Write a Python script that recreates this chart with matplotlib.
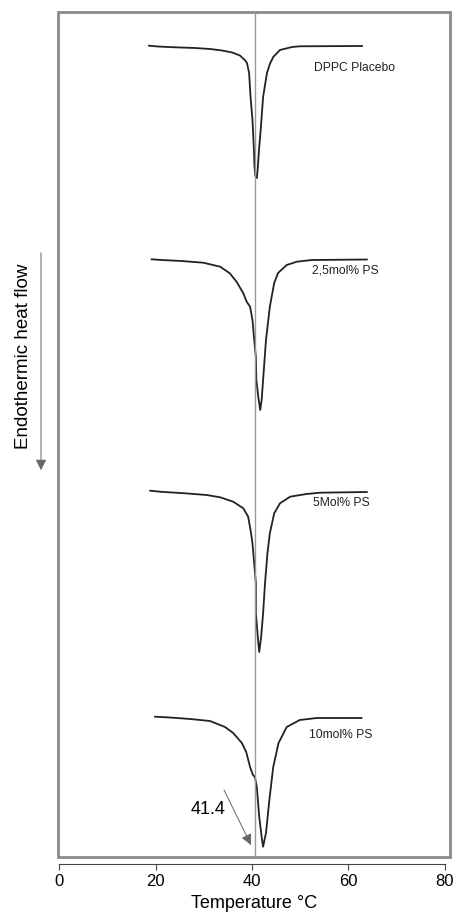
import matplotlib.pyplot as plt
from matplotlib.patches import Rectangle, FancyArrowPatch

plt.rcParams['font.family'] = ['Liberation Sans', 'DejaVu Sans']

# DSC traces, temperature (C) and heat flow relative to baseline (a.u.)
placebo_t = [18.65, 20.5, 24.0, 28.2, 31.3, 33.8, 35.9, 37.5, 38.5, 38.96, 39.4, 39.7, 40.1, 40.4,
             40.5, 40.7, 41.0, 41.2, 41.45, 41.8, 42.3, 42.7, 43.1, 43.7, 44.4, 45.8, 48.3, 49.9, 62.8]
placebo_q = [0.03, -0.05, -0.13, -0.2, -0.3, -0.45, -0.65, -0.95, -1.4, -1.7, -2.7, -5.1, -7.4, -10.4,
             -11.9, -13.0, -13.2, -12.2, -10.4, -8.4, -5.1, -3.9, -2.7, -1.8, -1.1, -0.4, -0.1, -0.03, 0.0]

ps25_t = [19.2, 21.3, 25.4, 29.9, 33.4, 35.4, 36.8, 38.2, 38.9, 39.6, 40.1, 40.4, 40.8, 40.9, 41.3,
          41.7, 42.0, 42.3, 42.9, 43.7, 44.6, 45.4, 47.2, 49.3, 52.4, 63.8]
ps25_q = [0.02, -0.05, -0.15, -0.32, -0.72, -1.38, -2.22, -3.38, -4.22, -4.72, -6.05, -7.72, -9.75,
          -12.05, -13.72, -15.05, -14.05, -12.05, -8.05, -4.72, -2.35, -1.35, -0.55, -0.22, -0.05, 0.0]

ps5_t = [18.9, 20.9, 26.1, 30.6, 33.4, 36.1, 38.2, 39.2, 39.7, 40.1, 40.4, 40.8, 40.8, 41.2, 41.5,
         41.9, 42.3, 42.7, 43.2, 43.7, 44.6, 45.8, 47.9, 51.3, 54.1, 63.8]
ps5_q = [0.2, 0.1, -0.06, -0.23, -0.46, -0.9, -1.56, -2.4, -3.73, -5.06, -6.73, -9.06, -12.06, -14.4,
         -15.93, -14.4, -12.06, -9.06, -6.06, -4.06, -2.06, -1.06, -0.4, -0.13, 0.0, 0.07]

ps10_t = [19.9, 23.0, 27.2, 31.3, 34.4, 36.1, 37.9, 38.8, 39.6, 40.2, 40.6, 41.0, 41.5, 42.0, 42.3,
          42.9, 43.6, 44.4, 45.5, 47.2, 49.9, 53.4, 62.7]
ps10_q = [0.13, 0.05, -0.1, -0.3, -0.9, -1.5, -2.5, -3.4, -4.9, -5.7, -5.9, -6.9, -9.9, -11.9, -12.87,
          -11.5, -8.2, -4.9, -2.5, -0.9, -0.2, 0.0, 0.0]

names = ["DPPC Placebo", "2,5mol% PS", "5Mol% PS", "10mol% PS"]
offsets = [-3.4, -24.75, -48.07, -70.6]
label_dy = [-2.2, -1.05, -1.0, -1.7]
label_t = [52.8, 52.4, 52.6, 51.8]
tm = 40.7

fig = plt.figure(figsize=(4.56, 9.22), dpi=100)
ax = fig.add_axes([58 / 456, 65 / 922, 392 / 456, 845 / 922])
ax.set_xlim(-0.21, 81.04)
ax.set_ylim(-84.5, 0)

curves = [(placebo_t, placebo_q), (ps25_t, ps25_q), (ps5_t, ps5_q), (ps10_t, ps10_q)]
for (t, q), off, name, dy, lt in zip(curves, offsets, names, label_dy, label_t):
    ax.plot(t, [v + off for v in q], color="#222222", lw=1.3)
    ax.text(lt, off + dy, name, fontsize=8.7, va="center", ha="left", color="#222222")

ax.axvline(tm, color="#999999", lw=1)

ax.text(30.9, -79.7, "41.4", fontsize=13, ha="center", va="center")
ax.annotate("", xy=(39.8, -83.3), xytext=(34.2, -77.8),
            arrowprops=dict(arrowstyle="-|>", color="#666666", lw=0.7, mutation_scale=16,
                            shrinkA=0, shrinkB=0))

# grey frame
ax.add_patch(Rectangle((0, 0), 1, 1, transform=ax.transAxes, fill=False,
                       edgecolor="#8a8a8a", lw=2, clip_on=False))
for s in ["top", "left", "right"]:
    ax.spines[s].set_visible(False)
ax.spines["bottom"].set_position(("outward", 5))
ax.spines["bottom"].set_bounds(0, 80)
ax.spines["bottom"].set_color("#444444")
ax.set_yticks([])
ax.set_xticks([0, 20, 40, 60, 80])
ax.tick_params(axis="x", direction="out", length=4, labelsize=12, colors="#444444", labelcolor="black")
ax.set_xlabel("Temperature °C", fontsize=13)

fig.text(24 / 456, 1 - 356 / 922, "Endothermic heat flow", rotation=90, fontsize=13.5,
         ha="center", va="center")
fig.add_artist(FancyArrowPatch((41 / 456, 1 - 250 / 922), (41 / 456, 1 - 473 / 922),
                               transform=fig.transFigure, arrowstyle="-|>",
                               mutation_scale=16, color="#666666", lw=0.7))

fig.savefig("out.png", dpi=100)
